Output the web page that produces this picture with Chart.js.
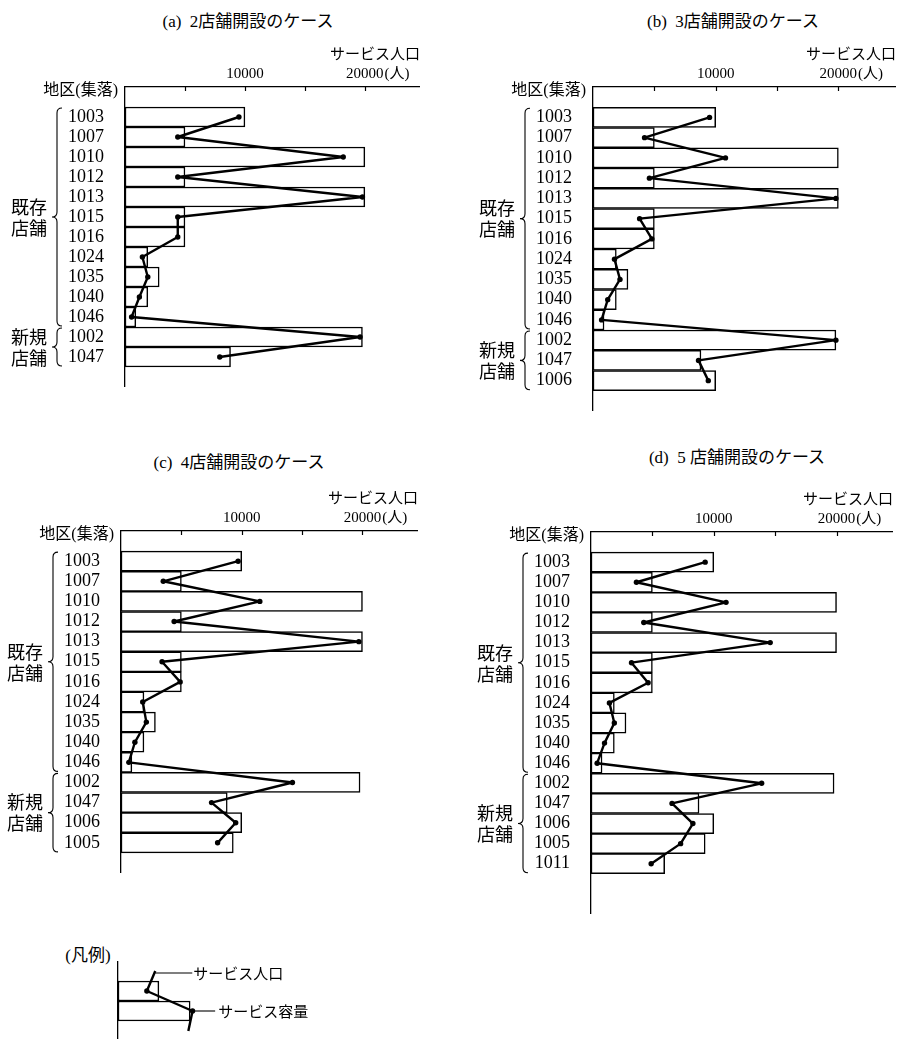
<!DOCTYPE html>
<html><head><meta charset="utf-8">
<script src="https://cdn.jsdelivr.net/npm/chart.js@4.4.1/dist/chart.umd.min.js"></script>
<style>
html,body{margin:0;padding:0;background:#fff;overflow:hidden;width:898px;height:1039px;position:relative;}
.t{position:absolute;font-size:17px;font-family:"Liberation Serif","Noto Sans CJK JP",serif;color:#000;white-space:nowrap;transform:translate(-50%,-50%);}
canvas{position:absolute;}
</style></head><body>
<div class="t" style="left:248px;top:19px">(a)&nbsp; 2店舗開設のケース</div>
<div class="t" style="left:733px;top:19px">(b)&nbsp; 3店舗開設のケース</div>
<div class="t" style="left:239px;top:460px">(c)&nbsp; 4店舗開設のケース</div>
<div class="t" style="left:737px;top:455px">(d)&nbsp; 5 店舗開設のケース</div>
<div class="t" style="left:88px;top:953px">(凡例)</div>
<script>
// ---------- data ----------
const catsA = ['1003','1007','1010','1012','1013','1015','1016','1024','1035','1040','1046','1002','1047'];
const catsB = catsA.concat(['1006']);
const catsC = catsB.concat(['1005']);
const catsD = catsC.concat(['1011']);

// サービス容量 (bars)
const capA = [10000,5000,20000,5000,20000,5000,5000,1900,2850,1900,900,19800,8800];
const capB = [10000,5000,20000,5000,20000,5000,5000,1900,2850,1900,900,19800,8800,10000];
const capC = [10000,5000,20000,5000,20000,5000,5000,1900,2850,1900,900,19800,8800,10000,9300];
const capD = [10000,5000,20000,5000,20000,5000,5000,1900,2850,1900,900,19800,8800,10000,9300,6000];

// サービス人口 (line)
const popA = [9500,4400,18200,4400,19800,4400,4400,1450,1900,1200,550,19600,7900];
const popB = [9500,4200,10800,4600,19800,3800,4800,1750,2200,1200,700,19800,8600,9400];
const popC = [9700,3500,11500,4400,19700,3400,4900,1800,2100,1150,650,14200,7500,9500,8000];
const popD = [9300,3700,11000,4300,14600,3300,4650,1500,1900,1100,500,13900,6600,8300,7300,4900];

const tickMarks = [5000, 10000, 15000, 20000];
const tickValues = [10000, 20000];
const tickLabels = ['10000', '20000'];
const unitSuffix = '(人)';
const axisTitle = 'サービス人口';
const rowHeader = '地区(集落)';
const groupExisting = ['既存','店舗'];
const groupNew = ['新規','店舗'];

// legend sample
const legendCap = [null, 3400, 6000, null];
const legendPop = [3100, 2400, 6200, 5850];
const legendPopLabel = 'サービス人口';
const legendCapLabel = 'サービス容量';

// ---------- rendering ----------
const SERIF = '"Liberation Serif","Noto Sans CJK JP",serif';
const CJK = '"Noto Sans CJK JP",sans-serif';
Chart.defaults.font.family = SERIF;
Chart.defaults.color = '#000';

function drawBrace(ctx, x, top, bot) {
  const mid = (top + bot) / 2, r = 5;
  ctx.beginPath();
  ctx.moveTo(x + r, top);
  ctx.quadraticCurveTo(x, top, x, top + r);
  ctx.lineTo(x, mid - r);
  ctx.quadraticCurveTo(x, mid, x - r, mid);
  ctx.quadraticCurveTo(x, mid, x, mid + r);
  ctx.lineTo(x, bot - r);
  ctx.quadraticCurveTo(x, bot, x + r, bot);
  ctx.stroke();
}

const decor = {
  id: 'decor',
  afterDraw(chart, args, opts) {
    const ctx = chart.ctx, ys = chart.scales.y, xs = chart.scales.x, area = chart.chartArea;
    ctx.save();
    ctx.fillStyle = '#000'; ctx.strokeStyle = '#000';
    // top axis tick marks (pointing into the plot) and labels
    ctx.lineWidth = 1.2;
    tickMarks.forEach(v => {
      const px = Math.round(xs.getPixelForValue(v)) + 0.5;
      ctx.beginPath(); ctx.moveTo(px, area.top); ctx.lineTo(px, area.top + 4); ctx.stroke();
    });
    ctx.font = '15px ' + SERIF;
    ctx.textBaseline = 'middle';
    tickValues.forEach((v, i) => {
      const px = xs.getPixelForValue(v);
      ctx.textAlign = 'center';
      ctx.fillText(tickLabels[i], px, area.top - 13);
      if (i === tickValues.length - 1) {
        const w = ctx.measureText(tickLabels[i]).width;
        ctx.textAlign = 'left';
        ctx.fillText(unitSuffix, px + w / 2 + 1, area.top - 13);
      }
    });
    // row header
    ctx.font = '16px ' + SERIF;
    ctx.textAlign = 'right';
    ctx.fillText(rowHeader, area.left - 7, area.top + 4);
    // group braces
    const band = ys.getPixelForValue(1) - ys.getPixelForValue(0);
    ctx.lineWidth = 1.1;
    opts.groups.forEach(g => {
      const i0 = opts.labels.indexOf(g.from), i1 = opts.labels.indexOf(g.to);
      const top = ys.getPixelForValue(i0) - band / 2 + 1;
      const bot = ys.getPixelForValue(i1) + band / 2 - 1;
      drawBrace(ctx, area.left - 68, top, bot);
      const mid = (top + bot) / 2;
      ctx.font = '18px ' + CJK;
      ctx.textAlign = 'right';
      ctx.fillText(g.text[0], area.left - 78, mid - 10);
      ctx.fillText(g.text[1], area.left - 78, mid + 11);
    });
    ctx.restore();
  }
};

const panels = [
  {cats: catsA, cap: capA, pop: popA, canvasLeft: 0,   chartLeft: 125, chartRight: 420, axisY: 87,  rowH: 20,    padBottom: 1, xMax: 24600},
  {cats: catsB, cap: capB, pop: popB, canvasLeft: 460, chartLeft: 593, chartRight: 896, axisY: 87,  rowH: 20.25, padBottom: 1, xMax: 24700},
  {cats: catsC, cap: capC, pop: popC, canvasLeft: 0,   chartLeft: 121, chartRight: 418, axisY: 531, rowH: 20.1,  padBottom: 1, xMax: 24600},
  {cats: catsD, cap: capD, pop: popD, canvasLeft: 460, chartLeft: 591, chartRight: 893, axisY: 532, rowH: 20.1,  padBottom: 2, xMax: 24600}
];

const X_H = 47;

function makePanel(p) {
  const labels = [''].concat(p.cats, Array(p.padBottom).fill(''));
  const capData = [null].concat(p.cap, Array(p.padBottom).fill(null));
  const popData = [null].concat(p.pop, Array(p.padBottom).fill(null));
  const rows = labels.length;
  const cv = document.createElement('canvas');
  const w = p.chartRight - p.canvasLeft;
  const h = Math.round(rows * p.rowH) + X_H;
  cv.width = w; cv.height = h;
  cv.style.left = p.canvasLeft + 'px';
  cv.style.top = (p.axisY - X_H) + 'px';
  cv.style.width = w + 'px'; cv.style.height = h + 'px';
  document.body.appendChild(cv);
  const yW = p.chartLeft - p.canvasLeft;
  new Chart(cv, {
    type: 'bar',
    data: {
      labels: labels,
      datasets: [
        {type: 'line', data: popData, order: 0, borderColor: '#000', borderWidth: 2.4,
         borderJoinStyle: 'round', pointRadius: 2.7, pointBackgroundColor: '#000', pointBorderWidth: 0,
         tension: 0, clip: false},
        {type: 'bar', data: capData, order: 1, backgroundColor: '#fff', borderColor: '#000',
         borderWidth: 1.5, borderSkipped: false, barPercentage: 1, categoryPercentage: 1}
      ]
    },
    options: {
      indexAxis: 'y',
      responsive: false, animation: false, events: [],
      layout: {padding: 0, autoPadding: false},
      scales: {
        x: {
          type: 'linear', position: 'top', min: 0, max: p.xMax,
          ticks: {display: false},
          grid: {display: false},
          border: {display: true, color: '#000', width: 1.3},
          title: {display: true, text: axisTitle, align: 'end', padding: {top: 4, bottom: 0},
            font: {size: 15, family: CJK}},
          afterFit: s => { s.height = X_H; s.paddingLeft = 0; s.paddingRight = 0; }
        },
        y: {
          type: 'category',
          ticks: {padding: 13, autoSkip: false, font: {size: 18, family: SERIF}},
          grid: {display: false},
          border: {display: true, color: '#000', width: 1.3},
          afterFit: s => { s.width = yW; s.paddingTop = 0; s.paddingBottom = 0; }
        }
      },
      plugins: {
        legend: {display: false}, tooltip: {enabled: false},
        decor: {labels: labels, groups: [
          {from: p.cats[0], to: '1046', text: groupExisting},
          {from: '1002', to: p.cats[p.cats.length - 1], text: groupNew}
        ]}
      }
    },
    plugins: [decor]
  });
}
panels.forEach(makePanel);

// ---------- legend ----------
const legendDecor = {
  id: 'legendDecor',
  afterDraw(chart) {
    const ctx = chart.ctx, xs = chart.scales.x, ys = chart.scales.y;
    ctx.save();
    ctx.strokeStyle = '#000'; ctx.fillStyle = '#000'; ctx.lineWidth = 1.1;
    ctx.font = '15px ' + CJK; ctx.textAlign = 'left'; ctx.textBaseline = 'middle';
    const x0 = xs.getPixelForValue(legendPop[0]), y0 = ys.getPixelForValue(0) + 2;
    ctx.beginPath(); ctx.moveTo(x0, y0); ctx.lineTo(x0 + 37, y0); ctx.stroke();
    ctx.fillText(legendPopLabel, x0 + 38, y0);
    const x2 = xs.getPixelForValue(legendCap[2]), y2 = ys.getPixelForValue(2);
    ctx.beginPath(); ctx.moveTo(x2, y2); ctx.lineTo(x2 + 25, y2); ctx.stroke();
    ctx.fillText(legendCapLabel, x2 + 28, y2);
    ctx.restore();
  }
};
(function () {
  const cv = document.createElement('canvas');
  cv.width = 320; cv.height = 80;
  cv.style.left = '0px'; cv.style.top = '961px';
  cv.style.width = '320px'; cv.style.height = '80px';
  document.body.appendChild(cv);
  new Chart(cv, {
    type: 'bar',
    data: {
      labels: ['', '', '', ''],
      datasets: [
        {type: 'line', data: legendPop, order: 0, borderColor: '#000', borderWidth: 2.4,
         borderJoinStyle: 'round', pointRadius: [0, 2.7, 2.7, 0], pointBackgroundColor: '#000',
         pointBorderWidth: 0, tension: 0, clip: false},
        {type: 'bar', data: legendCap, order: 1, backgroundColor: '#fff', borderColor: '#000',
         borderWidth: 1.5, borderSkipped: false, barPercentage: 1, categoryPercentage: 1}
      ]
    },
    options: {
      indexAxis: 'y', responsive: false, animation: false, events: [],
      layout: {padding: 0, autoPadding: false},
      scales: {
        x: {type: 'linear', display: false, min: 0, max: 16800},
        y: {type: 'category', ticks: {display: false}, grid: {display: false},
            border: {display: true, color: '#000', width: 1.3},
            afterFit: s => { s.width = 118; s.paddingTop = 0; s.paddingBottom = 0; }}
      },
      plugins: {legend: {display: false}, tooltip: {enabled: false}}
    },
    plugins: [legendDecor]
  });
})();
</script>
</body></html>
